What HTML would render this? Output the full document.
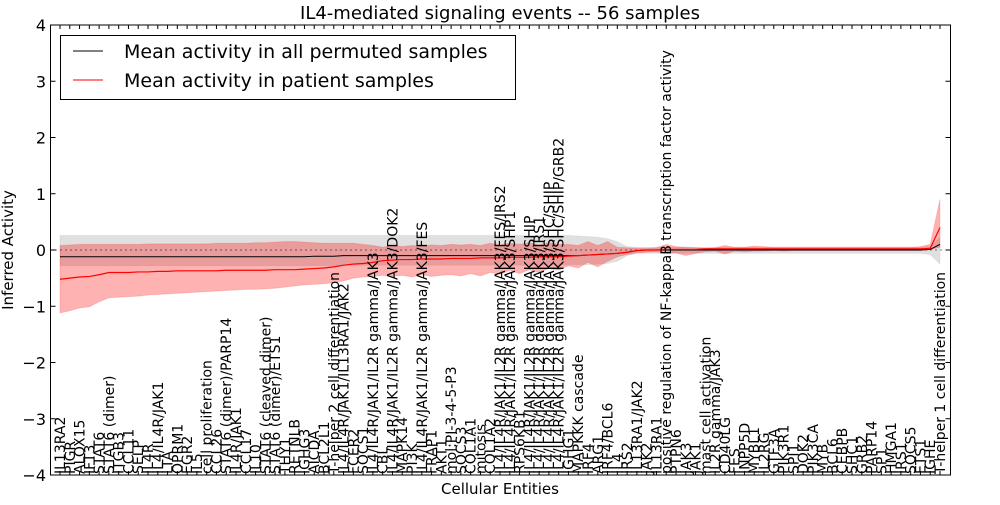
<!DOCTYPE html>
<html><head><meta charset="utf-8"><style>
body{margin:0;background:#fff;}
svg text{font-family:"DejaVu Sans","Liberation Sans",sans-serif;}
</style></head><body>
<svg id="chart" width="1000" height="500" viewBox="0 0 1000 500" xmlns="http://www.w3.org/2000/svg">
<rect width="1000" height="500" fill="#fff"/>
<text x="500" y="19" font-size="18" text-anchor="middle">IL4-mediated signaling events -- 56 samples</text>
<g id="bands"></g>
<g id="lines"></g>
<g id="axes"></g>
<g id="xlabels"></g>
<text x="500" y="494" font-size="15" text-anchor="middle">Cellular Entities</text>
<text transform="translate(13,250) rotate(-90)" font-size="15" text-anchor="middle">Inferred Activity</text>
<g>
<rect x="60.5" y="35.5" width="455" height="64" fill="#fff" stroke="#000" stroke-width="1"/>
<line x1="73" y1="51" x2="103" y2="51" stroke="#000" stroke-width="1"/>
<text x="124" y="58" font-size="19">Mean activity in all permuted samples</text>
<line x1="73" y1="80" x2="103" y2="80" stroke="#f00" stroke-width="1"/>
<text x="124" y="87" font-size="19">Mean activity in patient samples</text>
</g>
</svg>
<script>
const categories = ["IL13RA2","PIGR","ALOX15","IFT3","STAT6","STAT6 (dimer)","ITGB3","CCL11","SELP","IL4R","IL4/IL4R/JAK1","LTA","OPRM1","EGR2","IL5","cell proliferation","CCL26","STAT6 (dimer)/PARP14","IL4R/JAK1","CCL17","IL10","STAT6 (cleaved dimer)","STAT6 (dimer)/ETS1","THY1","RETNLB","IGHG3","AICDA","BCL2L1","T-helper 2 cell differentiation","IL4/IL4R/JAK1/IL13RA1/JAK2","FCER2","SOCS1","IL4/IL4R/JAK1/IL2R gamma/JAK3","CBL","IL4/IL4R/JAK1/IL2R gamma/JAK3/DOK2","MAPK14","PI3K","IL4/IL4R/JAK1/IL2R gamma/JAK3/FES","FRAP1","AKT1","mol:PI-3-4-5-P3","SOCS3","COL1A1","mitosis","COL1A2","IL4/IL4R/JAK1/IL2R gamma/JAK3/FES/IRS2","IL4/IL4R/JAK1/IL2R gamma/JAK3/SHP1","RPS6KB1","IL4/IL4R/JAK1/IL2R gamma/JAK3/SHIP","IL4/IL4R/JAK1/IL2R gamma/JAK3/IRS1","IL4/IL4R/JAK1/IL2R gamma/JAK3/SHC/SHIP","IL4/IL4R/JAK1/IL2R gamma/JAK3/SHC/SHIP/GRB2","IGHG1","MAPKKK cascade","IRF4","ARG1","IRF4/BCL6","IL4","IRS2","IL13RA1/JAK2","JAK2","IL13RA1","positive regulation of NF-kappaB transcription factor activity","PTPN6","JAK3","JAK1","mast cell activation","IL2R gamma/JAK3","CD40LG","FES","INPP5D","MYBL1","IL2RG","GTF3A","PIK3R1","SPI1","DOK2","PIK3CA","MYB","BCL6","CEBPB","SHC1","GRB2","PARP14","SP1","HMGA1","IRS1","SOCS5","ETS1","IGHE","T-helper 1 cell differentiation"];
const patientMean = [-0.52,-0.50,-0.48,-0.47,-0.44,-0.40,-0.40,-0.40,-0.39,-0.39,-0.38,-0.38,-0.37,-0.37,-0.37,-0.37,-0.37,-0.36,-0.36,-0.36,-0.36,-0.36,-0.35,-0.35,-0.35,-0.34,-0.33,-0.32,-0.30,-0.27,-0.25,-0.24,-0.22,-0.19,-0.18,-0.17,-0.17,-0.16,-0.16,-0.16,-0.15,-0.15,-0.15,-0.14,-0.14,-0.14,-0.13,-0.13,-0.13,-0.12,-0.12,-0.12,-0.11,-0.10,-0.09,-0.08,-0.07,-0.06,-0.04,-0.01,0.00,0.00,0.01,0.01,0.01,0.01,0.02,0.02,0.02,0.02,0.02,0.02,0.02,0.02,0.02,0.02,0.02,0.02,0.02,0.02,0.02,0.02,0.02,0.02,0.02,0.02,0.02,0.02,0.02,0.03,0.40];
const patientLow = [-1.12,-1.08,-1.03,-1.01,-0.92,-0.85,-0.84,-0.83,-0.82,-0.80,-0.79,-0.78,-0.77,-0.76,-0.75,-0.74,-0.73,-0.72,-0.71,-0.70,-0.70,-0.69,-0.68,-0.66,-0.64,-0.62,-0.61,-0.60,-0.58,-0.55,-0.50,-0.48,-0.47,-0.45,-0.47,-0.45,-0.48,-0.44,-0.47,-0.45,-0.44,-0.46,-0.42,-0.46,-0.40,-0.43,-0.36,-0.42,-0.35,-0.40,-0.33,-0.36,-0.28,-0.32,-0.22,-0.30,-0.20,-0.12,-0.08,-0.05,-0.04,-0.03,-0.06,-0.05,-0.10,-0.06,-0.03,-0.02,-0.07,-0.02,-0.03,-0.02,-0.02,-0.01,-0.02,-0.01,-0.01,-0.01,-0.01,-0.01,-0.01,-0.01,-0.01,-0.01,-0.01,-0.01,-0.01,-0.01,-0.01,0.01,0.05];
const patientHigh = [0.08,0.09,0.10,0.10,0.10,0.10,0.10,0.10,0.10,0.11,0.11,0.11,0.11,0.11,0.11,0.11,0.12,0.12,0.12,0.12,0.13,0.13,0.14,0.15,0.15,0.14,0.13,0.12,0.12,0.12,0.12,0.10,0.08,0.05,0.08,0.06,0.08,0.07,0.09,0.08,0.10,0.09,0.10,0.08,0.12,0.09,0.12,0.10,0.13,0.09,0.13,0.10,0.10,0.08,0.15,0.08,0.15,0.05,0.04,0.03,0.03,0.04,0.10,0.06,0.05,0.04,0.03,0.04,0.08,0.05,0.05,0.07,0.06,0.05,0.05,0.05,0.05,0.05,0.05,0.05,0.05,0.05,0.05,0.05,0.05,0.05,0.05,0.05,0.06,0.10,0.90];
const permMean = [-0.12,-0.12,-0.12,-0.12,-0.12,-0.12,-0.12,-0.12,-0.12,-0.12,-0.12,-0.12,-0.12,-0.12,-0.12,-0.12,-0.12,-0.12,-0.12,-0.12,-0.12,-0.12,-0.12,-0.12,-0.12,-0.12,-0.11,-0.11,-0.11,-0.10,-0.10,-0.10,-0.10,-0.10,-0.10,-0.10,-0.10,-0.10,-0.10,-0.10,-0.10,-0.10,-0.10,-0.10,-0.10,-0.10,-0.10,-0.10,-0.10,-0.10,-0.10,-0.10,-0.10,-0.10,-0.09,-0.08,-0.07,-0.06,-0.04,-0.01,0.00,0.00,0.00,0.00,0.00,0.00,0.00,0.00,0.00,0.00,0.00,0.00,0.00,0.00,0.00,0.00,0.00,0.00,0.00,0.00,0.00,0.00,0.00,0.00,0.00,0.00,0.00,0.00,0.00,0.01,0.10];
const permLow = [-0.28,-0.28,-0.28,-0.28,-0.28,-0.28,-0.28,-0.28,-0.28,-0.28,-0.28,-0.28,-0.28,-0.28,-0.28,-0.28,-0.28,-0.28,-0.28,-0.28,-0.28,-0.28,-0.28,-0.28,-0.28,-0.28,-0.28,-0.28,-0.28,-0.27,-0.27,-0.27,-0.27,-0.27,-0.27,-0.27,-0.27,-0.27,-0.27,-0.27,-0.27,-0.27,-0.27,-0.27,-0.27,-0.27,-0.27,-0.27,-0.27,-0.27,-0.27,-0.27,-0.26,-0.26,-0.26,-0.25,-0.24,-0.20,-0.10,-0.06,-0.06,-0.06,-0.06,-0.06,-0.06,-0.06,-0.06,-0.06,-0.06,-0.06,-0.06,-0.06,-0.06,-0.06,-0.06,-0.06,-0.06,-0.06,-0.06,-0.06,-0.06,-0.06,-0.06,-0.06,-0.06,-0.06,-0.06,-0.06,-0.06,-0.08,-0.25];
const permHigh = [0.26,0.26,0.26,0.26,0.26,0.26,0.26,0.26,0.26,0.26,0.26,0.26,0.26,0.26,0.26,0.26,0.26,0.26,0.26,0.26,0.26,0.26,0.26,0.26,0.26,0.26,0.26,0.26,0.26,0.26,0.26,0.26,0.26,0.26,0.26,0.26,0.26,0.26,0.26,0.26,0.26,0.26,0.26,0.26,0.26,0.26,0.26,0.26,0.26,0.26,0.26,0.26,0.26,0.25,0.24,0.23,0.20,0.15,0.06,0.05,0.05,0.05,0.05,0.05,0.05,0.05,0.05,0.05,0.05,0.05,0.05,0.05,0.05,0.05,0.05,0.05,0.05,0.05,0.05,0.05,0.05,0.05,0.05,0.05,0.05,0.05,0.05,0.05,0.05,0.06,0.22];
const yTicks = [-4,-3,-2,-1,0,1,2,3,4];

const NS = "http://www.w3.org/2000/svg";
const L = 50.5, R = 950.5, T = 25, B = 475;
const xS = i => 60 + i * (880 / (categories.length - 1));
const yS = v => T + (4 - v) * (B - T) / 8;
function mk(tag, attrs, parent) {
  const e = document.createElementNS(NS, tag);
  for (const k in attrs) e.setAttribute(k, attrs[k]);
  parent.appendChild(e);
  return e;
}
function bandPath(lo, hi) {
  let d = "M" + hi.map((v, i) => xS(i) + "," + yS(v)).join("L");
  for (let i = lo.length - 1; i >= 0; i--) d += "L" + xS(i) + "," + yS(lo[i]);
  return d + "Z";
}
function linePath(a) { return "M" + a.map((v, i) => xS(i) + "," + yS(v)).join("L"); }
const bands = document.getElementById("bands");
const gb = mk("path", {d: bandPath(permLow, permHigh), fill: "#000", "fill-opacity": 0.12, stroke: "#000", "stroke-opacity": 0.05}, bands);


const rb = mk("path", {d: bandPath(patientLow, patientHigh), fill: "#f00", "fill-opacity": 0.3, stroke: "#f00", "stroke-opacity": 0.15}, bands);


const lines = document.getElementById("lines");
const zl = mk("line", {x1: L, x2: R, y1: yS(0), y2: yS(0), stroke: "#000", "stroke-dasharray": "1,4"}, lines);


const bl = mk("path", {d: linePath(permMean), fill: "none", stroke: "#000", "stroke-width": 1}, lines);


const rl = mk("path", {d: linePath(patientMean), fill: "none", stroke: "#f00", "stroke-width": 1.2}, lines);


const axes = document.getElementById("axes");
const fr = mk("rect", {x: L, y: T, width: R - L, height: B - T, fill: "none", stroke: "#000", "stroke-width": 1}, axes);


yTicks.forEach(v => {
  const y = yS(v);
  mk("line", {x1: L, x2: L + 5, y1: y, y2: y, stroke: "#000"}, axes);
  mk("line", {x1: R - 5, x2: R, y1: y, y2: y, stroke: "#000"}, axes);
  const t = mk("text", {x: 46, y: y + 6, "font-size": 16, "text-anchor": "end"}, axes);
  t.textContent = (v < 0 ? "\u2212" : "") + Math.abs(v);
  
  
});
const xl = document.getElementById("xlabels");
categories.forEach((c, i) => {
  const x = xS(i);
  mk("line", {x1: x, x2: x, y1: B, y2: B - 4, stroke: "#000"}, axes);
  mk("line", {x1: x, x2: x, y1: T, y2: T + 4, stroke: "#000"}, axes);
  const t = mk("text", {transform: "translate(" + (x + 5) + "," + (B - 1) + ") rotate(-90)", "font-size": 14, "text-anchor": "start"}, xl);
  t.textContent = c;
  
  
});
</script>
</body></html>
